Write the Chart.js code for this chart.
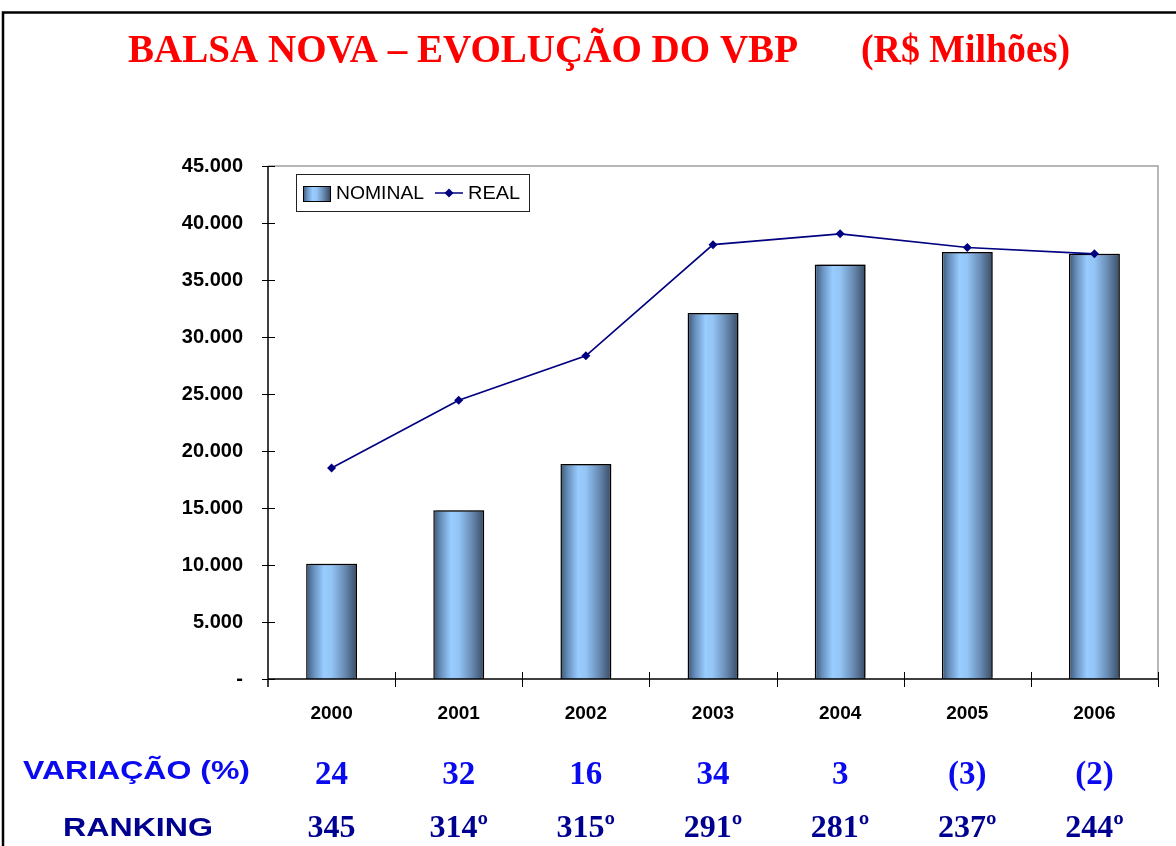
<!DOCTYPE html>
<html>
<head>
<meta charset="utf-8">
<script src="https://cdn.jsdelivr.net/npm/chart.js@4.4.1/dist/chart.umd.min.js"></script>
<style>
  html, body { margin:0; padding:0; background:#fff; }
  #wrap { position:relative; width:1176px; height:846px; }
</style>
</head>
<body>
<div id="wrap"><canvas id="c" width="1176" height="846"></canvas></div>
<script>
// VBP Balsa Nova (R$ milhões)
const years = ["2000","2001","2002","2003","2004","2005","2006"];
const nominal = [10100, 14800, 18850, 32100, 36350, 37450, 37300];
const real = [18500, 24450, 28350, 38100, 39050, 37850, 37300];
const variacao = ["24","32","16","34","3","(3)","(2)"];
const ranking = ["345","314º","315º","291º","281º","237º","244º"];
const yTicks = [0,5000,10000,15000,20000,25000,30000,35000,40000,45000];

const titleLeft = "BALSA NOVA – EVOLUÇÃO DO VBP";
const titleRight = "(R$ Milhões)";

const SANS = "'Liberation Sans', Arial, sans-serif";
const SERIF = "'Liberation Serif', 'Times New Roman', serif";

function fmtTick(v){
  if (v === 0) return "-";
  return Number(v).toLocaleString("de-DE");
}

function barGradient(ctx, x0, x1){
  const g = ctx.createLinearGradient(x0, 0, x1, 0);
  g.addColorStop(0, "#3c5574");
  g.addColorStop(0.15, "#6890bd");
  g.addColorStop(0.35, "#99ccff");
  g.addColorStop(0.5, "#93c5f6");
  g.addColorStop(0.75, "#6a8db5");
  g.addColorStop(1, "#384b64");
  return g;
}

function barFill(c){
  const chart = c.chart;
  const xs = chart.scales.x;
  if (!chart.chartArea || !xs) return "#8fb8e6";
  const cx = xs.getPixelForValue(c.dataIndex);
  const w = xs.width / years.length * 0.4;
  return barGradient(chart.ctx, cx - w/2, cx + w/2);
}

// draws text so it fills a given width (the source text is a bit stretched)
function fitText(ctx, txt, x, y, width, font, color){
  ctx.save();
  ctx.font = font;
  ctx.fillStyle = color;
  ctx.textBaseline = "alphabetic";
  ctx.textAlign = "left";
  const m = ctx.measureText(txt).width;
  ctx.translate(x, y);
  ctx.scale(width / m, 1);
  ctx.fillText(txt, 0, 0);
  ctx.restore();
}

const decor = {
  id: "decor",
  beforeDatasetsDraw(chart){
    const {ctx, chartArea:a} = chart;
    ctx.save();
    // grey frame top/right
    ctx.strokeStyle = "#a0a0a0";
    ctx.lineWidth = 1.5;
    ctx.beginPath();
    ctx.moveTo(a.left, a.top); ctx.lineTo(a.right, a.top); ctx.lineTo(a.right, a.bottom);
    ctx.stroke();
    ctx.restore();
  },
  beforeDatasetDraw(chart, args){
    if (args.index === 0){
      const ctx = chart.ctx;
      ctx.save();
      ctx.shadowColor = "rgba(0,0,0,0.35)";
      ctx.shadowOffsetX = 3;
      ctx.shadowOffsetY = -2;
      ctx.shadowBlur = 0;
    }
  },
  afterDatasetDraw(chart, args){
    if (args.index === 0) chart.ctx.restore();
  },
  afterDraw(chart){
    const {ctx, chartArea:a, scales} = chart;
    const xs = scales.x, ys = scales.y;
    ctx.save();
    // axes
    ctx.strokeStyle = "#000";
    ctx.lineWidth = 1.5;
    ctx.beginPath();
    ctx.moveTo(a.left, a.top); ctx.lineTo(a.left, a.bottom + 8);
    ctx.moveTo(a.left, a.bottom); ctx.lineTo(a.right, a.bottom);
    ctx.stroke();
    ctx.lineWidth = 1;
    ctx.beginPath();
    yTicks.forEach(v=>{
      const y = Math.round(ys.getPixelForValue(v)) + 0.5;
      ctx.moveTo(a.left - 6, y); ctx.lineTo(a.left + 7, y);
    });
    const step = xs.width / years.length;
    for (let i = 1; i <= years.length; i++){
      const x = Math.round(a.left + i*step) + 0.5;
      ctx.moveTo(x, a.bottom - 7); ctx.lineTo(x, a.bottom + 8);
    }
    ctx.stroke();

    // page frame
    ctx.strokeStyle = "#000";
    ctx.lineWidth = 2.5;
    ctx.beginPath();
    ctx.moveTo(3, 846); ctx.lineTo(3, 12.5); ctx.lineTo(1176, 12.5);
    ctx.stroke();

    // title
    fitText(ctx, titleLeft, 128, 62, 670, "bold 41px " + SERIF, "#ff0000");
    fitText(ctx, titleRight, 861, 62, 209, "bold 41px " + SERIF, "#ff0000");

    // legend
    const lx = 296.5, ly = 174.5;
    ctx.fillStyle = "#fff";
    ctx.fillRect(lx, ly, 233, 37);
    ctx.strokeStyle = "#222";
    ctx.lineWidth = 1;
    ctx.strokeRect(lx, ly, 233, 37);
    ctx.fillStyle = barGradient(ctx, 303, 330);
    ctx.fillRect(303, 186, 27, 15);
    ctx.strokeStyle = "#000";
    ctx.strokeRect(303.5, 186.5, 27, 15);
    ctx.fillStyle = "#000";
    ctx.textBaseline = "alphabetic";
    ctx.textAlign = "left";
    fitText(ctx, chart.data.datasets[0].label, 336, 199, 88, "19px " + SANS, "#000");
    ctx.strokeStyle = "#000080";
    ctx.lineWidth = 1.5;
    ctx.beginPath(); ctx.moveTo(435, 193); ctx.lineTo(463, 193); ctx.stroke();
    ctx.fillStyle = "#000080";
    ctx.beginPath();
    ctx.moveTo(449, 188.5); ctx.lineTo(453.5, 193); ctx.lineTo(449, 197.5); ctx.lineTo(444.5, 193);
    ctx.closePath(); ctx.fill();
    fitText(ctx, chart.data.datasets[1].label, 468, 199, 52, "19px " + SANS, "#000");

    // rows below the axis
    fitText(ctx, "VARIAÇÃO (%)", 23, 779, 227, "bold 26px " + SANS, "#0a0af0");
    fitText(ctx, "RANKING", 63, 836, 150, "bold 26px " + SANS, "#000090");
    ctx.textAlign = "center";
    ctx.font = "bold 33px " + SERIF;
    ctx.fillStyle = "#0a0af0";
    variacao.forEach((t,i)=> ctx.fillText(t, xs.getPixelForValue(i), 784));
    ctx.font = "bold 32px " + SERIF;
    ctx.fillStyle = "#000090";
    ranking.forEach((t,i)=> ctx.fillText(t, xs.getPixelForValue(i), 837));
    ctx.restore();
  }
};

new Chart(document.getElementById("c").getContext("2d"), {
  type: "bar",
  data: {
    labels: years,
    datasets: [
      {
        type: "bar",
        label: "NOMINAL",
        data: nominal,
        backgroundColor: barFill,
        borderColor: "#000",
        borderWidth: 1.5,
        barPercentage: 0.4,
        categoryPercentage: 1,
        order: 2,
      },
      {
        type: "line",
        label: "REAL",
        data: real,
        borderColor: "#000080",
        backgroundColor: "#000080",
        borderWidth: 1.7,
        tension: 0,
        pointStyle: "rectRot",
        pointRadius: 4.5,
        pointBorderWidth: 0,
        order: 1,
      }
    ]
  },
  options: {
    responsive: false,
    animation: false,
    devicePixelRatio: 1,
    layout: { padding: { top: 166, right: 18, bottom: 0, left: 0 } },
    plugins: {
      legend: { display: false },
      title: { display: false },
      tooltip: { enabled: false },
    },
    scales: {
      x: {
        offset: true,
        grid: { display: false, drawTicks: false },
        border: { display: false },
        ticks: { color: "#000", font: { family: SANS, size: 19, weight: "bold" }, padding: 23, maxRotation: 0 },
        afterFit: (s)=>{ s.height = 167; },
      },
      y: {
        min: 0, max: 45000,
        afterBuildTicks: (s)=>{ s.ticks = yTicks.map(v=>({value:v})); },
        grid: { display: false, drawTicks: false },
        border: { display: false },
        ticks: { color: "#000", font: { family: SANS, size: 20, weight: "bold" }, padding: 25, callback: fmtTick },
        afterFit: (s)=>{ s.width = 268; },
      }
    }
  },
  plugins: [decor]
});
</script>
</body>
</html>
